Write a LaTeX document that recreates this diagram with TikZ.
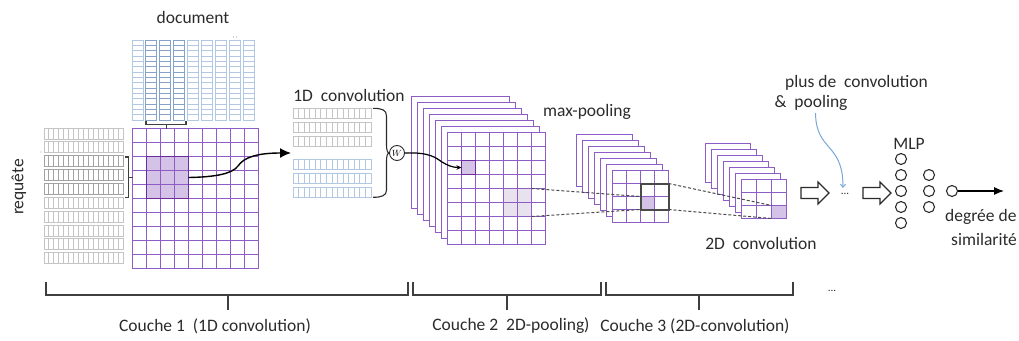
\documentclass[tikz,border=0pt]{standalone}
\usepackage{fontspec}
\setmainfont{Carlito}
\usetikzlibrary{arrows.meta}

\definecolor{purp}{HTML}{8E5CC6}
\definecolor{purpdark}{HTML}{6A2C9E}
\definecolor{purpfill}{HTML}{D4C3E7}
\definecolor{lavfill}{HTML}{E8E2EF}
\definecolor{qgray}{HTML}{C4C4C4}
\definecolor{qdark}{HTML}{A2A2A2}
\definecolor{dblue}{HTML}{B2C7E1}
\definecolor{dbluedark}{HTML}{85A2C8}
\definecolor{ink}{HTML}{2B2B2B}
\definecolor{bracegray}{HTML}{3F3F3F}
\definecolor{skyline}{HTML}{7AA5D8}
\definecolor{boxgray}{HTML}{4A4A4A}

% feature-map stack: #1,#2 back corner, #3,#4 layer shift, #5 columns, #6 rows,
% #7,#8 cell size, #9 fills drawn under the front grid lines
\newcommand{\featstack}[9]{%
  \foreach \k in {0,...,5}
    \filldraw[mapline, fill=white] ({#1+\k*#3},{#2+\k*#4}) rectangle ++({#5*#7},{#6*#8});
  \pgfmathsetmacro\fx{#1+6*#3}
  \pgfmathsetmacro\fy{#2+6*#4}
  \filldraw[mapline, fill=white] (\fx,\fy) rectangle ++({#5*#7},{#6*#8});
  #9
  \pgfmathtruncatemacro\nc{#5-1}
  \pgfmathtruncatemacro\nr{#6-1}
  \foreach \c in {1,...,\nc} \draw[mapline] ({\fx+\c*#7},\fy) -- ++(0,{#6*#8});
  \foreach \r in {1,...,\nr} \draw[mapline] (\fx,{\fy+\r*#8}) -- ++({#5*#7},0);
  \draw[mapline] (\fx,\fy) rectangle ++({#5*#7},{#6*#8});
}

% outlined block arrow starting at a named point
\newcommand{\hollowarrow}[1]{%
  \draw[harrow] (#1) ++(0,-5.5) -- ++(17,0) -- ++(0,-5.5) -- ++(11,11)
    -- ++(-11,11) -- ++(0,-5.5) -- ++(-17,0) -- cycle;}

\begin{document}
\begin{tikzpicture}[x=1pt,y=-1pt,
  lbl/.style={font=\fontsize{17.5}{21}\selectfont, text=ink, inner sep=0pt},
  mapline/.style={draw=purp, line width=1.2pt},
  thinrow/.style={line width=0.9pt},
  brk/.style={draw=bracegray, line width=1.3pt},
  conn/.style={draw=black, line width=1.4pt},
  dashedlink/.style={draw=boxgray, line width=1pt, dash pattern=on 3pt off 2pt},
  harrow/.style={draw=ink, line width=1.1pt, fill=white},
  neuron/.style={circle, draw=ink, line width=1.1pt, minimum size=11pt, inner sep=0pt},
  cell/.style={anchor=north west, inner sep=0pt, outer sep=0pt},
  hilite/.style={cell, draw=purpdark, line width=1.9pt}
]
\useasboundingbox (0,0) rectangle (1019,340);

% ---------- document embeddings (columns) ----------
\node[lbl] (doc) at (193,17) {document};
\foreach \i in {0,...,8} {
  \pgfmathsetmacro\xx{132+\i*13.9}
  \ifnum\i>0 \ifnum\i<4 \def\cc{dbluedark}\else\def\cc{dblue}\fi\else\def\cc{dblue}\fi
  \draw[thinrow, draw=\cc] (\xx,40) rectangle ++(11,80);
  \foreach \j in {1,...,14} \draw[thinrow, draw=\cc] (\xx,{40+\j*5.333}) -- ++(11,0);
}
\fill[qdark] (233.5,37) circle (0.6) (236.5,37) circle (0.6);

% ---------- query embeddings (rows) ----------
\node[lbl, rotate=90] (req) at (19,187) {requête};
\fill[qdark] (41,152) circle (0.6);
\foreach \i in {0,...,9} {
  \pgfmathsetmacro\yy{128+\i*13.85}
  \ifnum\i>1 \ifnum\i<5 \def\cc{qdark}\else\def\cc{qgray}\fi\else\def\cc{qgray}\fi
  \draw[thinrow, draw=\cc] (44,\yy) rectangle ++(79,11);
  \foreach \j in {1,...,15} \draw[thinrow, draw=\cc] ({44+\j*4.9375},\yy) -- ++(0,11);
}

% ---------- interaction matrix ----------
\node[cell, minimum width=126pt, minimum height=140pt] (G) at (132.5,128.5) {};
\fill[purpfill] (146.5,156.5) rectangle ++(42,42);
\foreach \c in {1,...,8} \draw[mapline] ({132.5+\c*14},128.5) -- ++(0,140);
\foreach \r in {1,...,9} \draw[mapline] (132.5,{128.5+\r*14}) -- ++(126,0);
\draw[mapline] (132.5,128.5) rectangle ++(126,140);
\node[hilite, minimum width=42pt, minimum height=42pt] (hlA) at (146.5,156.5) {};

% brackets picking the window
\coordinate (dbr) at (166.5,124.5);
\draw[brk] (146,120.5) -- (146,124.5) -- (186,124.5) -- (186,120.5);
\draw[brk] (dbr) -- (dbr |- G.north);
\coordinate (qbr) at (128.5,177.5);
\draw[brk] (125,157) -- (128.5,157) -- (128.5,197.5) -- (125,197.5);
\draw[brk] (qbr) -- (qbr -| G.west);

% ---------- 1D convolution ----------
\node[lbl] (c1d) at (349,95) {1D\ \ convolution};
\foreach \yy/\cc in {108/qgray,122/qgray,136/qgray,159/dblue,173/dblue,187/dblue} {
  \draw[thinrow, draw=\cc] (293,\yy) rectangle ++(78,10);
  \foreach \j in {1,...,13} \draw[thinrow, draw=\cc] ({293+\j*5.571},\yy) -- ++(0,10);
}
\coordinate (tipA) at (291,153);
\draw[conn, -{Latex[length=11pt,width=10pt]}] (hlA.east) .. controls (215,177) and (232,174) .. (238,166)
  .. controls (244,157) and (258,153) .. (tipA);

\node[circle, draw=ink, line width=0.9pt, minimum size=15pt, inner sep=0pt,
      font=\fontsize{9}{9}\selectfont] (W) at (397,153) {$W$};
\draw[draw=ink, line width=1.1pt] (373,108.3) .. controls (382,108.3) and (386.5,110) .. (386.5,116)
  -- (386.5,145) .. controls (386.5,150) and (387.5,153) .. (W.west)
  .. controls (387.5,153) and (386.5,156) .. (386.5,161)
  -- (386.5,190) .. controls (386.5,195.5) and (382,197.3) .. (373,197.3);

% ---------- 2D convolution feature maps ----------
\featstack{411.5}{96.5}{6}{6}{7}{8}{14}{14}{%
  \fill[lavfill] (503.5,188.5) rectangle ++(28,28);
  \fill[purpfill] (461.5,160.5) rectangle ++(14,14);}
\node[hilite, minimum width=14pt, minimum height=14pt] (hlS1) at (461.5,160.5) {};
\node[cell, minimum width=28pt, minimum height=28pt] (lavA) at (503.5,188.5) {};
\draw[conn, line width=1.2pt, -{Stealth[length=5pt,width=4.5pt]}] (W.east) .. controls (430,152) and (436,158) .. (442,162)
  .. controls (447,165) and (452,167.5) .. (hlS1.west);

% ---------- max-pooling ----------
\node[lbl] (mp) at (587,112) {max-pooling};
\featstack{576.5}{134.5}{6}{6}{4}{4}{14}{13}{%
  \fill[purpfill] (640.5,196.5) rectangle ++(14,13);}
\node[cell, minimum width=14pt, minimum height=13pt] (pc2) at (640.5,196.5) {};
\node[cell, draw=boxgray, line width=2pt, minimum width=28pt, minimum height=26pt] (box2) at (640.5,183.5) {};

% ---------- 2D convolution ----------
\featstack{705.5}{143.5}{6}{6}{3}{3}{15}{13}{%
  \fill[purpfill] (771.5,205.5) rectangle ++(15,13);}
\node[cell, minimum width=15pt, minimum height=13pt] (pc3) at (771.5,205.5) {};
\node[lbl] (c2d) at (761,243) {2D\ \ convolution};

% receptive-field guides
\draw[dashedlink] (lavA.north east) -- (pc2.north west);
\draw[dashedlink] (lavA.south east) -- (pc2.south west);
\draw[dashedlink] (box2.north east) -- (pc3.north west);
\draw[dashedlink] (box2.south east) -- (pc3.south west);

% ---------- further layers and MLP ----------
\coordinate (ha1) at (801,193);
\hollowarrow{ha1}
\node[font=\fontsize{11}{11}\selectfont, text=ink, inner sep=0pt] (dots) at (845,194) {...};
\coordinate (ha2) at (863,193);
\hollowarrow{ha2}

\node[lbl] (more) at (856.5,83) {plus de\ \ convolution};
\node[lbl] (pool) at (811,103) {\&\ \ pooling};
\coordinate (bstart) at (815.5,113);
\draw[draw=skyline, line width=1pt, -{Straight Barb[length=3pt,width=5pt]}] (bstart)
  .. controls (816,152) and (843,142) .. (843,188);

\node[lbl] (mlp) at (909,144) {MLP};
\foreach \n/\yy in {1/159,2/175,3/191,4/207,5/223} \node[neuron] (a\n) at (901,\yy) {};
\foreach \n/\yy in {1/175,2/191,3/207} \node[neuron] (b\n) at (929,\yy) {};
\node[neuron] (out) at (952,191) {};
\coordinate (score) at (1004,191);
\draw[draw=black, line width=1.1pt, -{Latex[length=10pt,width=8pt]}] (out.east) -- (score);
\node[lbl, anchor=west] (deg) at (945,217) {degrée de};
\node[lbl, anchor=west] (sim) at (951,239) {similarité};

% ---------- layer brackets ----------
\draw[brk] (46,282) -- (46,295) -- (408,295) -- (408,282);
\draw[brk] (228,295) -- (228,310);
\draw[brk] (413,282) -- (413,295) -- (601,295) -- (601,282);
\draw[brk] (507,295) -- (507,310);
\draw[brk] (606,282) -- (606,295) -- (793,295) -- (793,282);
\draw[brk] (699,295) -- (699,310);
\node[font=\fontsize{11}{11}\selectfont, text=ink, inner sep=0pt] (etc) at (832,291) {...};

\node[lbl] (l1) at (215,326) {Couche 1\ \ (1D convolution)};
\node[lbl] (l2) at (511,326) {Couche 2\ \ 2D-pooling)};
\node[lbl] (l3) at (695,326) {Couche 3 (2D-convolution)};
\end{tikzpicture}
\end{document}
